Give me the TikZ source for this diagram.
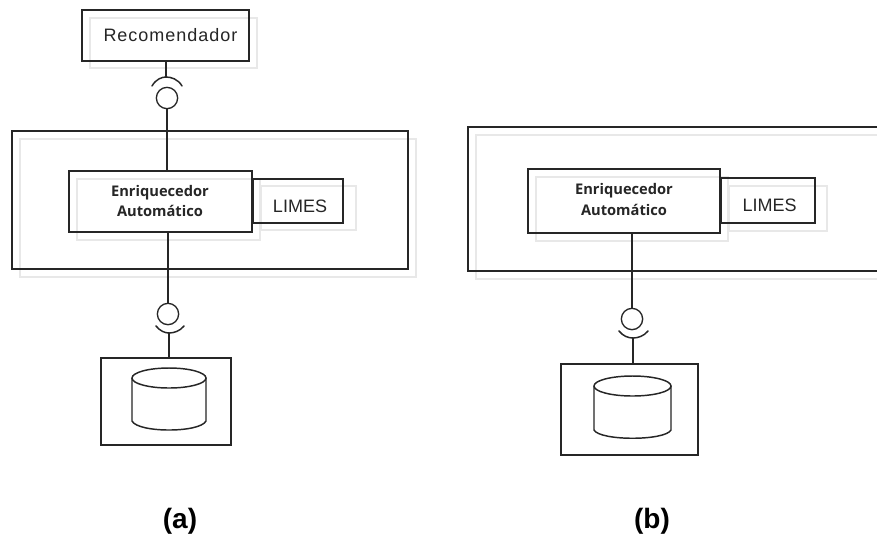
\documentclass[tikz,border=0pt]{standalone}
\usepackage{fontspec}
\setmainfont{Liberation Sans}
\newfontfamily\spacedfont[LetterSpace=5.5]{Liberation Sans}
\newfontfamily\boldlabel{Open Sans}
\definecolor{ink}{HTML}{262626}
\definecolor{ghost}{HTML}{E8E8E8}
\newcommand{\bx}[6]{\node[boxshape,#1,minimum width={(#4-#2)*0.75pt},minimum height={(#5-#3)*0.75pt}] (#6) at ({(#2+#4)/2},{(#3+#5)/2}) {};}
\tikzset{
  boxshape/.style={rectangle,inner sep=0pt,outer sep=0pt},
  mainbox/.style={draw=ink,line width=1.2pt},
  ghostbox/.style={draw=ghost,line width=1.1pt},
  wire/.style={draw=ink,line width=1.1pt},
  socket/.style={draw=ink,line width=1.1pt,line cap=round},
  lollipop/.style={circle,draw=ink,line width=1pt,inner sep=0pt,outer sep=0pt,minimum size=16pt},
  cyl/.style={draw=ink,line width=1.1pt},
  bigtxt/.style={font=\fontsize{13.5}{16}\selectfont,text=ink},
  enrtxt/.style={font=\boldlabel\bfseries\fontsize{11}{15.5}\selectfont,text=ink,align=center},
  caption/.style={font=\bfseries\fontsize{21}{24}\selectfont,text=black}
}
\begin{document}
\begin{tikzpicture}[x=0.75pt,y=-0.75pt]
\clip (0,0) rectangle (877,537);
\fill[white] (0,0) rectangle (877,537);
% ghost outlines (a)
\bx{ghostbox}{90}{18}{257}{68}{ga1}
\bx{ghostbox}{20}{139}{416}{277}{ga2}
\bx{ghostbox}{77}{179}{260}{240}{ga3}
\bx{ghostbox}{261}{186}{356}{230}{ga4}
% ghost outlines (b)
\bx{ghostbox}{476}{135}{890}{279}{gb2}
\bx{ghostbox}{536}{177}{728}{241}{gb3}
\bx{ghostbox}{729}{186}{827}{231}{gb4}
% main boxes (a)
\bx{mainbox}{82}{10}{249}{61}{rec}
\bx{mainbox}{12}{131}{408}{269}{biga}
\bx{mainbox}{69}{171}{252}{232}{enra}
\bx{mainbox}{253}{179}{343}{223}{limesa}
\bx{mainbox}{101}{358}{231}{445}{dba}
% main boxes (b)
\bx{mainbox}{468}{127}{890}{271}{bigb}
\bx{mainbox}{528}{169}{720}{233}{enrb}
\bx{mainbox}{721}{178}{815}{223}{limesb}
\bx{mainbox}{561}{364}{698}{455}{dbb}
% texts
\node[bigtxt,font=\spacedfont\fontsize{13.5}{16}\selectfont] (rectxt) at (170.5,35) {Recomendador};
\node[enrtxt] (enratxt) at (160,201) {Enriquecedor\\Automático};
\node[bigtxt] (limesatxt) at (300,206) {LIMES};
\node[enrtxt] (enrbtxt) at (624,199.5) {Enriquecedor\\Automático};
\node[bigtxt] (limesbtxt) at (769.5,205) {LIMES};
\node[caption] (capa) at (180,521) {(a)};
\node[caption] (capb) at (652,521) {(b)};
% interfaces (a)
\node[lollipop] (cira) at (167,98) {};
\coordinate (sockat) at (166,77);
\draw[socket] (152,86) .. controls (156,79) and (162,77) .. (sockat) .. controls (171,77) and (178,79) .. (182,86);
\draw[wire] (sockat |- rec.south) -- (sockat);
\draw[wire] (cira.south) -- (cira.south |- enra.north);
\node[lollipop] (cirb) at (168,314) {};
\coordinate (sockab) at (169,333);
\draw[socket] (156,326) .. controls (160,331) and (165,333) .. (sockab) .. controls (174,333) and (180,331) .. (184,326);
\draw[wire] (cirb.north) -- (cirb.north |- enra.south);
\draw[wire] (sockab) -- (sockab |- dba.north);
% interfaces (b)
\node[lollipop] (circ) at (632,319) {};
\coordinate (sockbb) at (633,338);
\draw[socket] (619,331) .. controls (623,336) and (628,338) .. (sockbb) .. controls (638,338) and (644,336) .. (648,331);
\draw[wire] (circ.north) -- (circ.north |- enrb.south);
\draw[wire] (sockbb) -- (sockbb |- dbb.north);
% cylinders
\draw[cyl] (169,378) ellipse [x radius=37,y radius=10];
\draw[cyl] (132,378) -- (132,421) .. controls (138,433) and (200,433) .. (206,421) -- (206,378);
\draw[cyl] (632.5,386) ellipse [x radius=38.5,y radius=10];
\draw[cyl] (594,386) -- (594,430) .. controls (600,441) and (665,441) .. (671,430) -- (671,386);
\end{tikzpicture}
\end{document}
